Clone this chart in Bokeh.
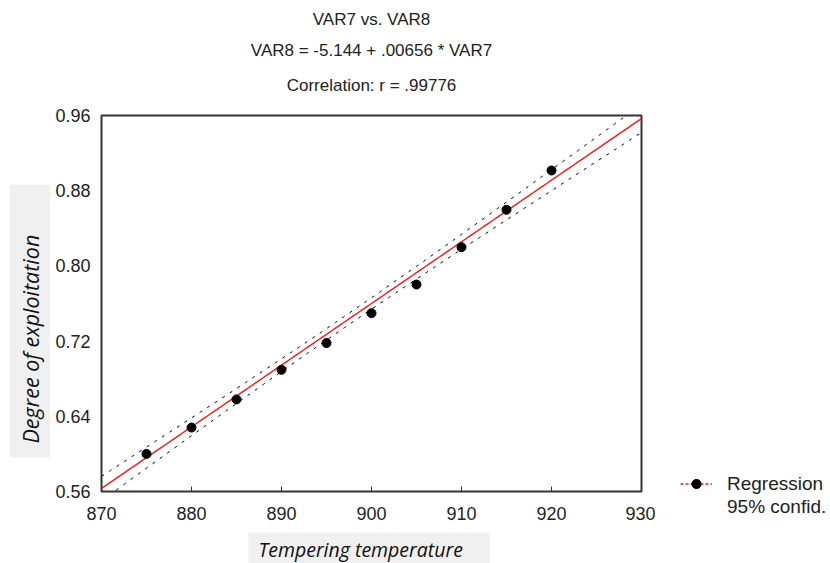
import numpy as np
from bokeh.plotting import figure
from bokeh.layouts import row, column
from bokeh.models import (Title, Label, Legend, LegendItem, FixedTicker, PrintfTickFormatter,
                          Range1d)
from bokeh.embed import file_html
from bokeh.resources import INLINE

# ---- data ----
temperature = [875, 880, 885, 890, 895, 900, 905, 910, 915, 920]
exploitation = [0.600, 0.628, 0.658, 0.6895, 0.718, 0.7497, 0.7802, 0.8199, 0.8597, 0.9015]
intercept = -5.144
slope = 0.00656
t_crit = 2.306  # t(0.975, n-2=8)
x_ticks = [870, 880, 890, 900, 910, 920, 930]
y_ticks = [0.56, 0.64, 0.72, 0.80, 0.88, 0.96]
title_lines = ["VAR7 vs. VAR8", "VAR8 = -5.144 + .00656 * VAR7", "Correlation: r = .99776"]
x_label = "Tempering temperature"
y_label = "Degree of exploitation"
legend_labels = ["Regression", "95% confid."]

# ---- regression + confidence band from data ----
xs = np.array(temperature, dtype=float)
ys = np.array(exploitation, dtype=float)
n = len(xs)
resid = ys - (intercept + slope * xs)
s = np.sqrt(np.sum(resid ** 2) / (n - 2))
xbar = xs.mean()
sxx = np.sum((xs - xbar) ** 2)
xg = np.linspace(x_ticks[0], x_ticks[-1], 121)
yg = intercept + slope * xg
hw = t_crit * s * np.sqrt(1.0 / n + (xg - xbar) ** 2 / sxx)

FONT = "Liberation Sans"
ROW_H, BOT_H = 530, 33
LEFT_W, MAIN_W, LEG_W = 50, 605, 175


def blank(width, height):
    f = figure(width=width, height=height, output_backend="svg", toolbar_location=None,
               x_range=Range1d(0, width), y_range=Range1d(0, height),
               min_border=0, min_border_left=0, min_border_right=0,
               min_border_top=0, min_border_bottom=0)
    f.axis.visible = False
    f.grid.visible = False
    f.outline_line_color = None
    f.background_fill_color = "white"
    f.border_fill_color = "white"
    try:
        f.frame_align = False
    except Exception:
        pass
    return f


# ---- main plot ----
p = figure(width=MAIN_W, height=ROW_H, output_backend="svg", toolbar_location=None,
           x_range=Range1d(870, 930), y_range=Range1d(0.56, 0.96),
           min_border_left=51, min_border_right=14, min_border_top=115, min_border_bottom=39)
p.background_fill_color = "white"
p.border_fill_color = "white"
p.outline_line_color = "#333333"
p.outline_line_width = 2
p.grid.visible = False

p.xaxis.ticker = FixedTicker(ticks=x_ticks)
p.yaxis.ticker = FixedTicker(ticks=y_ticks)
p.yaxis.formatter = PrintfTickFormatter(format="%.2f")
for ax in (p.xaxis[0], p.yaxis[0]):
    ax.axis_line_color = None
    ax.major_tick_out = 0
    ax.minor_tick_line_color = None
    ax.major_label_text_font = FONT
    ax.major_label_text_font_size = "18px"
    ax.major_label_text_color = "#222222"
p.xaxis.major_tick_in = 5
p.xaxis.major_tick_line_color = "#333333"
p.yaxis.major_tick_in = 0
p.yaxis.major_tick_line_color = None
p.xaxis.major_label_standoff = 15
p.yaxis.major_label_standoff = 11

p.line(xg, yg + hw, line_color="black", line_width=1, line_dash="3 6")
p.line(xg, yg - hw, line_color="black", line_width=1, line_dash="3 6")
p.line(xg, yg, line_color="#ff1a1a", line_width=1.5)
p.scatter(temperature, exploitation, size=9, color="black")

# titles (closest-to-frame first)
title_standoff = [16, 12, 8]
title_pad_bottom = [13, 0, 0]
for txt, so, pb in zip(reversed(title_lines), title_standoff, title_pad_bottom):
    p.add_layout(Title(text=txt, align="center", text_font=FONT, text_font_size="17px",
                       text_font_style="normal", text_color="#222222", standoff=so,
                       padding=dict(left=0, right=0, top=0, bottom=pb)), "above")

# ---- left strip: y-axis label ----
pl = blank(LEFT_W, ROW_H)
pl.add_layout(Label(x=30, y=ROW_H - 457, text=y_label, angle=np.pi / 2, angle_units="rad",
                    text_align="left", text_baseline="middle",
                    text_font="Open Sans", text_font_style="italic", text_font_size="21.5px",
                    text_color="#111111", background_fill_color="#f0f0f0",
                    padding=dict(left=14, right=50, top=6, bottom=6)))

# ---- right strip: legend ----
pr = blank(LEG_W, ROW_H)
r_reg = pr.line([-20, -10], [-20, -10], line_color="#ff1a1a", line_width=1.6, line_dash="3 2")
r_pts = pr.scatter([-20], [-20], size=7, color="black")
r_dummy = pr.line([-20, -10], [-20, -10], line_alpha=0)
legend = Legend(items=[LegendItem(label=legend_labels[0], renderers=[r_reg, r_pts]),
                       LegendItem(label=legend_labels[1], renderers=[r_dummy])],
                location=(25, ROW_H - 518), padding=0, margin=0, spacing=0,
                glyph_width=32, glyph_height=23, label_height=23, label_standoff=15,
                label_text_font=FONT, label_text_font_size="19px", label_text_color="#222222",
                border_line_color=None, background_fill_alpha=0)
pr.add_layout(legend, "center")

# ---- bottom strip: x-axis label ----
pb_fig = blank(LEFT_W + MAIN_W + LEG_W, BOT_H)
pb_fig.add_layout(Label(x=248, y=BOT_H - 2, text=x_label, text_align="left", text_baseline="top",
                        text_font="Open Sans", text_font_style="italic", text_font_size="19.5px",
                        text_color="#111111", background_fill_color="#f0f0f0",
                        padding=dict(left=10, right=27, top=3, bottom=4)))

layout = column(row(pl, p, pr), pb_fig)
open("out.html", "w").write(file_html(layout, INLINE))
